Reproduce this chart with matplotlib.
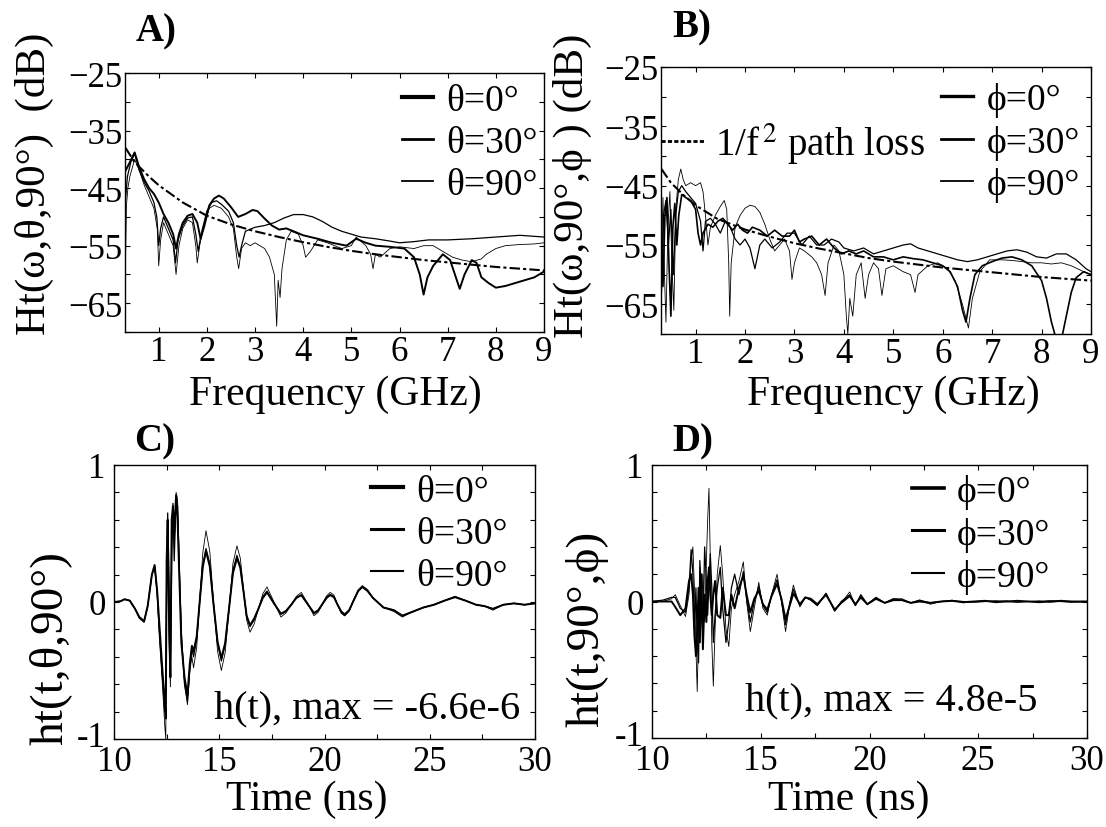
import matplotlib
matplotlib.use("Agg")
import matplotlib.pyplot as plt
from matplotlib.ticker import FixedLocator
from matplotlib.transforms import ScaledTranslation

plt.rcParams['font.family'] = ['Liberation Serif', 'DejaVu Serif']
plt.rcParams['mathtext.fontset'] = 'stix'

# ---------------- data ----------------
# A) transfer function vs frequency, phi = 90 deg
freq_ticks = [1, 2, 3, 4, 5, 6, 7, 8, 9]
db_ticks = [-25, -35, -45, -55, -65]
db_minor = [-30, -40, -50, -60, -70]

f_a0 = [0.31, 0.4, 0.5, 0.6, 0.7, 0.8, 0.9, 1.0, 1.1, 1.2, 1.3, 1.36, 1.42, 1.5, 1.6,
        1.7, 1.8, 1.87, 1.95, 2.05, 2.15, 2.25, 2.35, 2.5, 2.65, 2.8, 2.95, 3.05, 3.2, 3.35,
        3.5, 3.65, 3.8, 4.0, 4.3, 4.6, 4.9, 5.1, 5.3, 5.5, 5.8, 6.1, 6.3, 6.42, 6.5,
        6.58, 6.7, 6.9, 7.05, 7.15, 7.25, 7.35, 7.5, 7.6, 7.7, 7.85, 8.0, 8.2, 8.4, 8.6,
        8.8, 9.0]
h_a0 = [-42, -40.5, -38.8, -41.5, -43.5, -45, -46, -47.5, -49.5, -51, -53, -55.5, -53, -51, -49.8,
        -49.5, -51, -53.8, -51.5, -48, -46.8, -46.3, -46.8, -48.3, -50, -49.5, -48.8, -49, -50.3, -51.5,
        -52.2, -52, -52.5, -53.2, -53.8, -54.5, -55, -53.8, -54.5, -55, -55.2, -55.5, -57, -60, -63.5,
        -60.5, -58.5, -56.5, -57.5, -60, -62.5, -60, -57.5, -58, -60.5, -61.5, -62.3, -62, -61.5, -61,
        -60.5, -59.5]

f_a30 = [0.31, 0.35, 0.42, 0.5, 0.6, 0.7, 0.8, 0.9, 0.96, 1.0, 1.04, 1.1, 1.2, 1.3, 1.35,
         1.4, 1.5, 1.6, 1.7, 1.77, 1.82, 1.88, 2.0, 2.1, 2.2, 2.3, 2.45, 2.55, 2.62, 2.67,
         2.72, 2.8, 3.0, 3.2, 3.4, 3.6, 3.8, 4.0, 4.2, 4.4, 4.6, 4.8, 5.0, 5.2, 5.5,
         5.8, 6.0, 6.3, 6.6, 7.0, 7.5, 8.0, 8.5, 9.0]
h_a30 = [-47, -43, -40.5, -39, -42, -44, -45.5, -47.5, -50, -55, -52, -50, -52, -54, -58,
         -54, -51.5, -50.2, -50, -53, -56, -53, -49, -47.5, -47.2, -47.8, -49, -51, -55, -57,
         -55, -52.5, -51.8, -51.5, -51, -50.2, -49.6, -49.6, -50, -50.8, -51.8, -52.5, -53, -53.5, -53.8,
         -54.2, -54.5, -54.3, -54, -54, -53.8, -53.5, -53.2, -53.5]

f_a90 = [0.31, 0.33, 0.36, 0.4, 0.5, 0.6, 0.7, 0.8, 0.9, 0.97, 1.0, 1.04, 1.1, 1.2, 1.3,
         1.36, 1.42, 1.5, 1.6, 1.7, 1.77, 1.8, 1.85, 1.95, 2.05, 2.15, 2.3, 2.45, 2.55, 2.62,
         2.66, 2.72, 2.8, 2.9, 3.0, 3.1, 3.2, 3.3, 3.4, 3.45, 3.48, 3.52, 3.56, 3.65, 3.75,
         3.9, 4.0, 4.05, 4.15, 4.3, 4.5, 4.8, 5.0, 5.1, 5.3, 5.4, 5.45, 5.5, 5.6, 5.8,
         6.0, 6.3, 6.5, 6.7, 6.9, 7.1, 7.3, 7.5, 7.7, 7.8, 8.0, 8.2, 8.5, 8.8, 9.0]
h_a90 = [-58, -48, -45, -43, -40, -42, -44.5, -46.5, -48.5, -52, -58.5, -54, -51, -53, -55,
         -60, -55, -52, -50.5, -51, -55, -58, -55, -51, -48.5, -48, -48.5, -50, -52, -57,
         -59, -55.5, -54.5, -55, -54.5, -55, -55.5, -57, -60, -69, -61, -64, -59, -54, -52.5,
         -53, -55, -57, -56, -54, -54.5, -55.5, -55, -53.5, -55, -56.5, -59, -56.5, -57, -55.5,
         -55.2, -55.5, -55, -55, -56, -57, -57.5, -57.8, -57.3, -56.5, -55.5, -55, -54.8, -54.7, -54.5]

f_pl_a = [0.31, 0.5, 0.8, 1.0, 1.5, 2.0, 2.5, 3.0, 3.5, 4.0, 4.5, 5.0, 5.5, 6.0, 6.5, 7.0, 7.5, 8.0, 8.5, 9.0]
h_pl_a = [-38, -40.5, -43, -44.5, -47.5, -49.8, -51.3, -52.5, -53.5, -54.4, -55.2, -55.9, -56.5, -57.0,
          -57.5, -57.9, -58.3, -58.7, -59.0, -59.3]

# B) transfer function vs frequency, theta = 90 deg
f_b0 = [0.31, 0.34, 0.38, 0.42, 0.46, 0.5, 0.54, 0.58, 0.62, 0.66, 0.72, 0.8, 0.9, 1.0, 1.05,
        1.1, 1.15, 1.25, 1.35, 1.45, 1.55, 1.65, 1.75, 1.85, 1.95, 2.05, 2.15, 2.3, 2.45, 2.6,
        2.75, 2.9, 3.0, 3.1, 3.2, 3.35, 3.5, 3.65, 3.8, 3.95, 4.1, 4.25, 4.4, 4.6, 4.8,
        5.0, 5.2, 5.4, 5.6, 5.8, 6.0, 6.15, 6.3, 6.4, 6.47, 6.55, 6.65, 6.8, 7.0, 7.2,
        7.4, 7.6, 7.8, 8.0, 8.1, 8.2, 8.3, 8.4, 8.5, 8.6, 8.7, 8.85, 9.0]
h_b0 = [-52, -62, -50, -47, -58, -67, -52, -48, -55, -50, -46.5, -47, -47.5, -49, -53,
        -55, -53, -51.5, -52, -51, -50.5, -51.5, -52.5, -51.5, -52.5, -53, -52, -52.5, -53.5, -52.5,
        -53.5, -53.5, -52.5, -54.5, -54, -53.5, -55, -54, -55.5, -56.5, -56, -56.5, -56, -57, -57,
        -57.5, -57, -57.3, -57.5, -58, -58.5, -59.5, -62, -66, -68, -64, -60, -58.5, -57.8, -57.2,
        -57, -57.5, -58.5, -61, -64, -68, -71, -71, -67, -63, -60.5, -59.5, -60]

f_b30 = [0.31, 0.35, 0.4, 0.45, 0.5, 0.55, 0.6, 0.65, 0.72, 0.8, 0.9, 1.0, 1.1, 1.15, 1.2,
         1.3, 1.4, 1.5, 1.6, 1.7, 1.8, 1.9, 2.0, 2.1, 2.2, 2.3, 2.4, 2.55, 2.7, 2.85,
         3.0, 3.15, 3.3, 3.45, 3.6, 3.75, 3.9, 4.0, 4.2, 4.4, 4.6, 4.8, 5.0, 5.2, 5.35,
         5.5, 5.7, 5.9, 6.1, 6.3, 6.5, 6.7, 6.9, 7.1, 7.3, 7.5, 7.7, 7.9, 8.1, 8.3,
         8.5, 8.7, 8.9, 9.0]
h_b30 = [-63, -50, -47.5, -55, -49, -60, -50, -46, -45, -46, -47, -48, -51, -56, -51,
         -50.5, -51.5, -53, -51, -52, -54, -55, -54, -55.5, -59, -55, -54, -55.5, -54.5, -53,
         -53, -55, -53.5, -55, -55, -54, -54.5, -55.5, -56, -55.5, -56.5, -56, -55.5, -55, -54.8,
         -55.5, -56, -56.5, -57, -57.5, -57.8, -57.5, -57, -56.5, -56, -55.8, -56.2, -57, -57.2, -56.5,
         -56.5, -57.5, -59, -59.5]

f_b90 = [0.31, 0.34, 0.37, 0.4, 0.44, 0.48, 0.52, 0.56, 0.6, 0.65, 0.7, 0.75, 0.8, 0.9, 1.0,
         1.1, 1.15, 1.2, 1.25, 1.3, 1.4, 1.5, 1.58, 1.63, 1.67, 1.69, 1.72, 1.8, 1.9, 2.0,
         2.1, 2.2, 2.3, 2.4, 2.5, 2.6, 2.7, 2.8, 2.9, 2.95, 3.0, 3.1, 3.2, 3.35, 3.45,
         3.55, 3.62, 3.68, 3.8, 3.9, 4.0, 4.05, 4.08, 4.12, 4.18, 4.25, 4.35, 4.43, 4.5, 4.6,
         4.7, 4.77, 4.85, 5.0, 5.2, 5.35, 5.44, 5.5, 5.7, 5.9, 6.1, 6.25, 6.4, 6.52, 6.6,
         6.75, 6.95, 7.2, 7.4, 7.6, 7.8, 8.0, 8.2, 8.4, 8.6, 8.8, 9.0]
h_b90 = [-58, -47, -60, -68, -52, -46, -58, -66, -49, -44, -42.2, -44, -45, -44.5, -45,
         -44.5, -46, -50, -55, -52, -50, -48.5, -47.5, -49, -58, -67, -58, -52, -50, -48.8,
         -48.3, -48.5, -49.5, -51.5, -54, -56, -55, -54, -56, -60.8, -58, -55.5, -56, -57, -58,
         -60, -63.5, -58, -55, -56, -60, -67, -70, -64, -67, -60, -58, -64, -60, -58,
         -59, -63.5, -59, -58.5, -59.5, -60, -63, -60, -58.5, -58, -59, -61, -65, -69, -64,
         -59.5, -57.5, -57.5, -57.6, -57.8, -58, -58, -58.2, -58, -58.5, -59.3, -60]

f_pl_b = [0.31, 0.5, 0.77, 1.0, 1.44, 2.0, 2.5, 3.0, 3.5, 4.0, 4.5, 5.0, 5.5, 6.0, 6.5, 7.0, 7.5, 8.0, 8.5, 9.0]
h_pl_b = [-42.2, -44.5, -46.7, -48.3, -50.6, -52.4, -53.6, -54.7, -55.6, -56.4, -57.2, -57.8, -58.3, -58.8,
          -59.2, -59.6, -60.0, -60.4, -60.7, -61.0]

# C) normalised impulse response, phi = 90 deg
time_ticks = [10, 15, 20, 25, 30]
time_minor = [12.5, 17.5, 22.5, 27.5]
amp_ticks = [-1, 0, 1]
amp_tick_labels = ['-1', '0', '1']
amp_minor = [-0.8, -0.6, -0.4, -0.2, 0.2, 0.4, 0.6, 0.8]

t_c = [10.0, 10.3, 10.5, 10.75, 11.0, 11.2, 11.43, 11.6, 11.8, 11.93, 12.05, 12.15, 12.3, 12.41, 12.46,
       12.5, 12.55, 12.62, 12.68, 12.74, 12.8, 12.86, 12.95, 13.02, 13.1, 13.2, 13.35, 13.49, 13.6, 13.7,
       13.78, 13.93, 14.07, 14.22, 14.37, 14.55, 14.73, 14.92, 15.1, 15.28, 15.47, 15.65, 15.84, 16.0, 16.15,
       16.3, 16.46, 16.66, 16.86, 17.07, 17.27, 17.6, 17.93, 18.17, 18.42, 18.66, 18.9, 19.2, 19.5, 19.7,
       19.9, 20.1, 20.27, 20.45, 20.62, 20.8, 20.96, 21.17, 21.38, 21.6, 21.8, 22.05, 22.3, 22.8, 23.3,
       23.7, 24.2, 24.7, 25.2, 25.7, 26.2, 26.7, 27.2, 27.6, 28.0, 28.5, 29.0, 29.5, 30.0]
h_c0 = [0.0, 0.005, 0.02, 0.01, -0.05, -0.11, -0.14, -0.03, 0.2, 0.27, 0.08, -0.15, -0.5, -0.72, -0.85,
        0.3, 0.6, -0.2, -0.55, 0.6, 0.7, 0.5, 0.78, 0.6, 0.2, -0.3, -0.55, -0.68, -0.45, -0.32,
        -0.36, -0.25, 0.0, 0.26, 0.37, 0.26, -0.02, -0.29, -0.41, -0.3, -0.04, 0.21, 0.32, 0.25, 0.08,
        -0.1, -0.17, -0.12, -0.05, 0.03, 0.07, -0.01, -0.085, -0.065, -0.02, 0.03, 0.05, -0.015, -0.08, -0.06,
        -0.015, 0.03, 0.05, 0.035, -0.02, -0.07, -0.09, -0.06, 0.01, 0.08, 0.11, 0.08, 0.03, -0.04, -0.06,
        -0.1, -0.07, -0.04, -0.02, 0.01, 0.035, 0.01, -0.02, -0.03, -0.05, -0.02, -0.01, -0.02, -0.01]
h_c30 = [0.0, 0.005, 0.02, 0.01, -0.05, -0.11, -0.14, -0.03, 0.2, 0.26, 0.08, -0.2, -0.55, -0.8, -0.6,
         0.1, 0.65, 0.1, -0.5, 0.3, 0.72, 0.3, 0.75, 0.7, 0.25, -0.25, -0.6, -0.72, -0.5, -0.34,
         -0.4, -0.27, 0.0, 0.27, 0.39, 0.28, -0.02, -0.3, -0.43, -0.31, -0.04, 0.23, 0.34, 0.26, 0.08,
         -0.1, -0.18, -0.13, -0.05, 0.04, 0.08, -0.01, -0.09, -0.07, -0.02, 0.03, 0.05, -0.015, -0.085, -0.065,
         -0.015, 0.035, 0.055, 0.04, -0.02, -0.08, -0.1, -0.065, 0.01, 0.08, 0.11, 0.08, 0.03, -0.04, -0.06,
         -0.1, -0.07, -0.04, -0.02, 0.01, 0.04, 0.01, -0.02, -0.03, -0.05, -0.02, -0.01, -0.02, -0.01]
h_c90 = [0.0, 0.005, 0.02, 0.01, -0.05, -0.12, -0.15, -0.03, 0.2, 0.25, 0.05, -0.25, -0.6, -0.9, -1.0,
         0.2, 0.55, -0.3, -0.62, 0.45, 0.65, 0.4, 0.8, 0.75, 0.3, -0.2, -0.6, -0.75, -0.5, -0.4,
         -0.48, -0.33, 0.02, 0.36, 0.52, 0.37, 0.0, -0.36, -0.5, -0.37, -0.05, 0.28, 0.41, 0.32, 0.1,
         -0.13, -0.22, -0.16, -0.05, 0.06, 0.11, 0.0, -0.11, -0.08, -0.02, 0.04, 0.07, -0.01, -0.1, -0.075,
         -0.015, 0.045, 0.07, 0.05, -0.02, -0.08, -0.1, -0.065, 0.015, 0.09, 0.12, 0.09, 0.03, -0.04, -0.07,
         -0.11, -0.07, -0.04, -0.02, 0.01, 0.04, 0.01, -0.02, -0.03, -0.06, -0.02, -0.01, -0.02, -0.01]

# D) normalised impulse response, theta = 90 deg
t_d = [10.0, 10.5, 10.9, 11.07, 11.3, 11.54, 11.7, 11.8, 11.88, 11.95, 12.02, 12.08, 12.14, 12.2, 12.27,
       12.34, 12.42, 12.5, 12.56, 12.62, 12.68, 12.75, 12.82, 12.9, 13.0, 13.14, 13.25, 13.4, 13.53, 13.65,
       13.8, 14.0, 14.2, 14.35, 14.52, 14.7, 14.91, 15.1, 15.3, 15.5, 15.75, 15.95, 16.14, 16.35, 16.5,
       16.8, 17.05, 17.3, 17.6, 18.0, 18.4, 18.7, 19.09, 19.35, 19.6, 19.9, 20.3, 20.7, 21.1, 21.5,
       21.9, 22.3, 22.8, 23.3, 23.8, 24.3, 24.8, 25.3, 25.8, 26.3, 26.8, 27.3, 27.8, 28.3, 28.8,
       29.3, 29.8, 30.0]
h_d0 = [0.0, 0.0, 0.0, -0.04, -0.1, -0.05, 0.15, 0.2, 0.05, -0.25, -0.4, -0.2, 0.1, -0.3, 0.2,
        -0.35, 0.05, -0.15, 0.15, 0.25, 0.05, -0.1, 0.05, 0.15, -0.1, -0.12, 0.1, -0.1, -0.1, 0.05,
        -0.05, 0.1, 0.19, 0.05, -0.08, 0.02, 0.08, -0.02, -0.06, 0.04, 0.13, 0.02, -0.13, -0.02, 0.06,
        -0.02, 0.03, 0.02, -0.02, 0.05, -0.06, -0.01, 0.04, -0.02, 0.03, -0.02, 0.02, -0.01, 0.01, 0.01,
        -0.01, 0.0, -0.01, 0.0, 0.005, -0.005, 0.0, 0.005, -0.005, 0.0, 0.005, 0.0, -0.005, 0.0, 0.005,
        0.0, 0.0, 0.0]
h_d30 = [0.0, 0.01, 0.03, 0.03, -0.05, -0.08, 0.1, 0.38, 0.2, -0.2, 0.1, -0.3, -0.45, 0.3, 0.05,
         -0.25, 0.4, 0.15, -0.1, 0.15, 0.35, 0.1, -0.3, -0.1, 0.1, 0.25, -0.05, -0.3, -0.15, 0.1,
         0.2, 0.05, 0.22, 0.02, -0.15, 0.0, 0.11, -0.03, -0.08, 0.05, 0.16, 0.01, -0.17, 0.0, 0.09,
         -0.03, 0.03, 0.01, -0.03, 0.06, -0.07, 0.0, 0.05, -0.03, 0.05, -0.02, 0.03, -0.01, 0.02, 0.01,
         -0.01, 0.01, -0.01, 0.0, 0.005, 0.0, -0.005, 0.0, 0.005, 0.0, -0.005, 0.0, 0.0, 0.005, 0.0,
         -0.005, 0.0, 0.0]
h_d90 = [0.0, 0.0, 0.02, 0.05, -0.03, -0.11, 0.05, 0.3, 0.4, 0.1, -0.35, -0.66, -0.2, 0.25, -0.1,
         0.2, -0.15, 0.3, 0.6, 0.83, 0.3, -0.3, -0.62, -0.2, 0.2, 0.41, 0.2, -0.2, -0.33, -0.05,
         0.05, 0.15, 0.29, 0.0, -0.22, -0.05, 0.14, -0.05, -0.1, 0.05, 0.2, 0.0, -0.22, 0.0, 0.12,
         -0.04, 0.03, 0.01, -0.03, 0.06, -0.07, -0.01, 0.07, -0.03, 0.04, -0.02, 0.03, -0.01, 0.02, 0.02,
         -0.01, 0.01, -0.02, 0.0, 0.01, -0.01, 0.0, 0.005, 0.0, 0.005, -0.005, 0.0, 0.005, -0.005, 0.0,
         0.0, -0.005, 0.0]

theta_labels = ['\u03b8=0\u00b0', '\u03b8=30\u00b0', '\u03b8=90\u00b0']
phi_labels = ['\u03d5=0\u00b0', '\u03d5=30\u00b0', '\u03d5=90\u00b0']

# ---------------- layout ----------------
W, H = 1106, 828
TICK_FS = 25
LABEL_FS = 30
LEG_FS = 27


def box(left, top, right, bottom):
    return [left / W, 1 - bottom / H, (right - left) / W, (bottom - top) / H]


def style_axes(ax):
    ax.tick_params(which='both', direction='in', top=True, right=True, length=3.5, width=0.8,
                   labelsize=TICK_FS, pad=2)
    for s in ax.spines.values():
        s.set_linewidth(1.0)


def style_time_axes(ax):
    ax.set_xlim(10, 30)
    ax.set_ylim(-1, 1)
    ax.set_xticks(time_ticks)
    ax.xaxis.set_minor_locator(FixedLocator(time_minor))
    ax.set_yticks(amp_ticks)
    ax.set_yticklabels(amp_tick_labels)
    ax.yaxis.set_minor_locator(FixedLocator(amp_minor))
    style_axes(ax)
    ax.tick_params(axis='y', pad=6)
    ax.tick_params(axis='x', pad=4)
    # lift the "-1" label a little so it does not sit on the "10" below it
    lab = ax.yaxis.get_major_ticks()[0].label1
    lab.set_transform(lab.get_transform() + ScaledTranslation(0, 4 / 72, fig.dpi_scale_trans))


def add_legend(ax, labels, anchor, widths):
    leg = ax.legend(ax.get_lines()[:3], labels, loc='upper left', bbox_to_anchor=anchor,
                    frameon=False, fontsize=LEG_FS, handlelength=0.85, handletextpad=0.35,
                    labelspacing=0.2, borderpad=0, borderaxespad=0)
    for line, w in zip(leg.get_lines(), widths):
        line.set_linewidth(w)
    return leg


fig = plt.figure(figsize=(W / 100, H / 100), dpi=100)

# A)
ax = fig.add_axes(box(125, 74, 544, 333))
ax.plot(f_a0, h_a0, color='black', lw=1.4)
ax.plot(f_a30, h_a30, color='black', lw=0.9)
ax.plot(f_a90, h_a90, color='black', lw=0.6)
ax.plot(f_pl_a, h_pl_a, color='black', lw=1.5, dashes=[5, 1.5, 1.5, 1.5])
ax.set_xlim(0.3, 9)
ax.set_ylim(-70, -25)
ax.set_xticks(freq_ticks)
ax.set_yticks(db_ticks)
ax.yaxis.set_minor_locator(FixedLocator(db_minor))
style_axes(ax)
add_legend(ax, theta_labels, (0.66, 0.958), [3.0, 2.0, 1.3])

# B)
ax = fig.add_axes(box(661, 68, 1091, 335))
ax.plot(f_b0, h_b0, color='black', lw=1.2)
ax.plot(f_b30, h_b30, color='black', lw=0.9)
ax.plot(f_b90, h_b90, color='black', lw=0.6)
pl, = ax.plot(f_pl_b, h_pl_b, color='black', lw=1.5, dashes=[5, 1.5, 1.5, 1.5])
ax.set_xlim(0.3, 9)
ax.set_ylim(-70, -25)
ax.set_xticks(freq_ticks)
ax.set_yticks(db_ticks)
ax.yaxis.set_minor_locator(FixedLocator(db_minor))
style_axes(ax)
leg_b = add_legend(ax, phi_labels, (0.652, 0.942), [2.4, 2.0, 1.3])
ax.add_artist(leg_b)
leg_pl = ax.legend([pl], [r'1/f$^{\,2}$ path loss'], loc='upper left', bbox_to_anchor=(0.0, 0.8),
                   frameon=False, fontsize=LEG_FS + 1, handlelength=1.1, handletextpad=0.3,
                   borderpad=0, borderaxespad=0)
leg_pl.get_lines()[0].set_dashes([1.5, 0.8])
leg_pl.get_lines()[0].set_linewidth(2.0)

# C)
ax = fig.add_axes(box(114, 466, 535, 740))
ax.plot(t_c, h_c0, color='black', lw=1.4)
ax.plot(t_c, h_c30, color='black', lw=0.9)
ax.plot(t_c, h_c90, color='black', lw=0.6)
style_time_axes(ax)
add_legend(ax, theta_labels, (0.61, 0.967), [3.0, 2.2, 1.5])
ax.text(0.237, 0.08, 'h(t), max = -6.6e-6', transform=ax.transAxes, fontsize=29, va='baseline')

# D)
ax = fig.add_axes(box(652, 466, 1087, 739))
ax.plot(t_d, h_d0, color='black', lw=1.4)
ax.plot(t_d, h_d30, color='black', lw=0.9)
ax.plot(t_d, h_d90, color='black', lw=0.6)
style_time_axes(ax)
add_legend(ax, phi_labels, (0.598, 0.967), [2.6, 2.2, 1.5])
ax.text(0.214, 0.106, 'h(t), max = 4.8e-5', transform=ax.transAxes, fontsize=29, va='baseline')

# axis labels and panel letters
fig.text(335 / W, 1 - 395 / H, 'Frequency (GHz)', fontsize=LABEL_FS, ha='center', va='center')
fig.text(893 / W, 1 - 395 / H, 'Frequency (GHz)', fontsize=LABEL_FS, ha='center', va='center')
fig.text(307 / W, 1 - 800 / H, 'Time (ns)', fontsize=LABEL_FS, ha='center', va='center')
fig.text(849 / W, 1 - 800 / H, 'Time (ns)', fontsize=LABEL_FS, ha='center', va='center')

fig.text(34 / W, 1 - 184 / H, 'Ht(\u03c9,\u03b8,90\u00b0)  (dB)', fontsize=31, rotation=90,
         ha='center', va='center')
fig.text(572 / W, 1 - 186 / H, 'Ht(\u03c9,90\u00b0,\u03d5 ) (dB)', fontsize=31, rotation=90,
         ha='center', va='center')
fig.text(50 / W, 1 - 648 / H, 'ht(t,\u03b8,90\u00b0)', fontsize=34, rotation=90,
         ha='center', va='center')
fig.text(587 / W, 1 - 629 / H, 'ht(t,90\u00b0,\u03d5)', fontsize=34, rotation=90,
         ha='center', va='center')

for letter, x, y in [('A)', 156, 32), ('B)', 692, 28), ('C)', 155, 442), ('D)', 693, 442)]:
    fig.text(x / W, 1 - y / H, letter, fontsize=28, fontweight='bold', ha='center', va='center')

fig.savefig('out.png', dpi=100)
